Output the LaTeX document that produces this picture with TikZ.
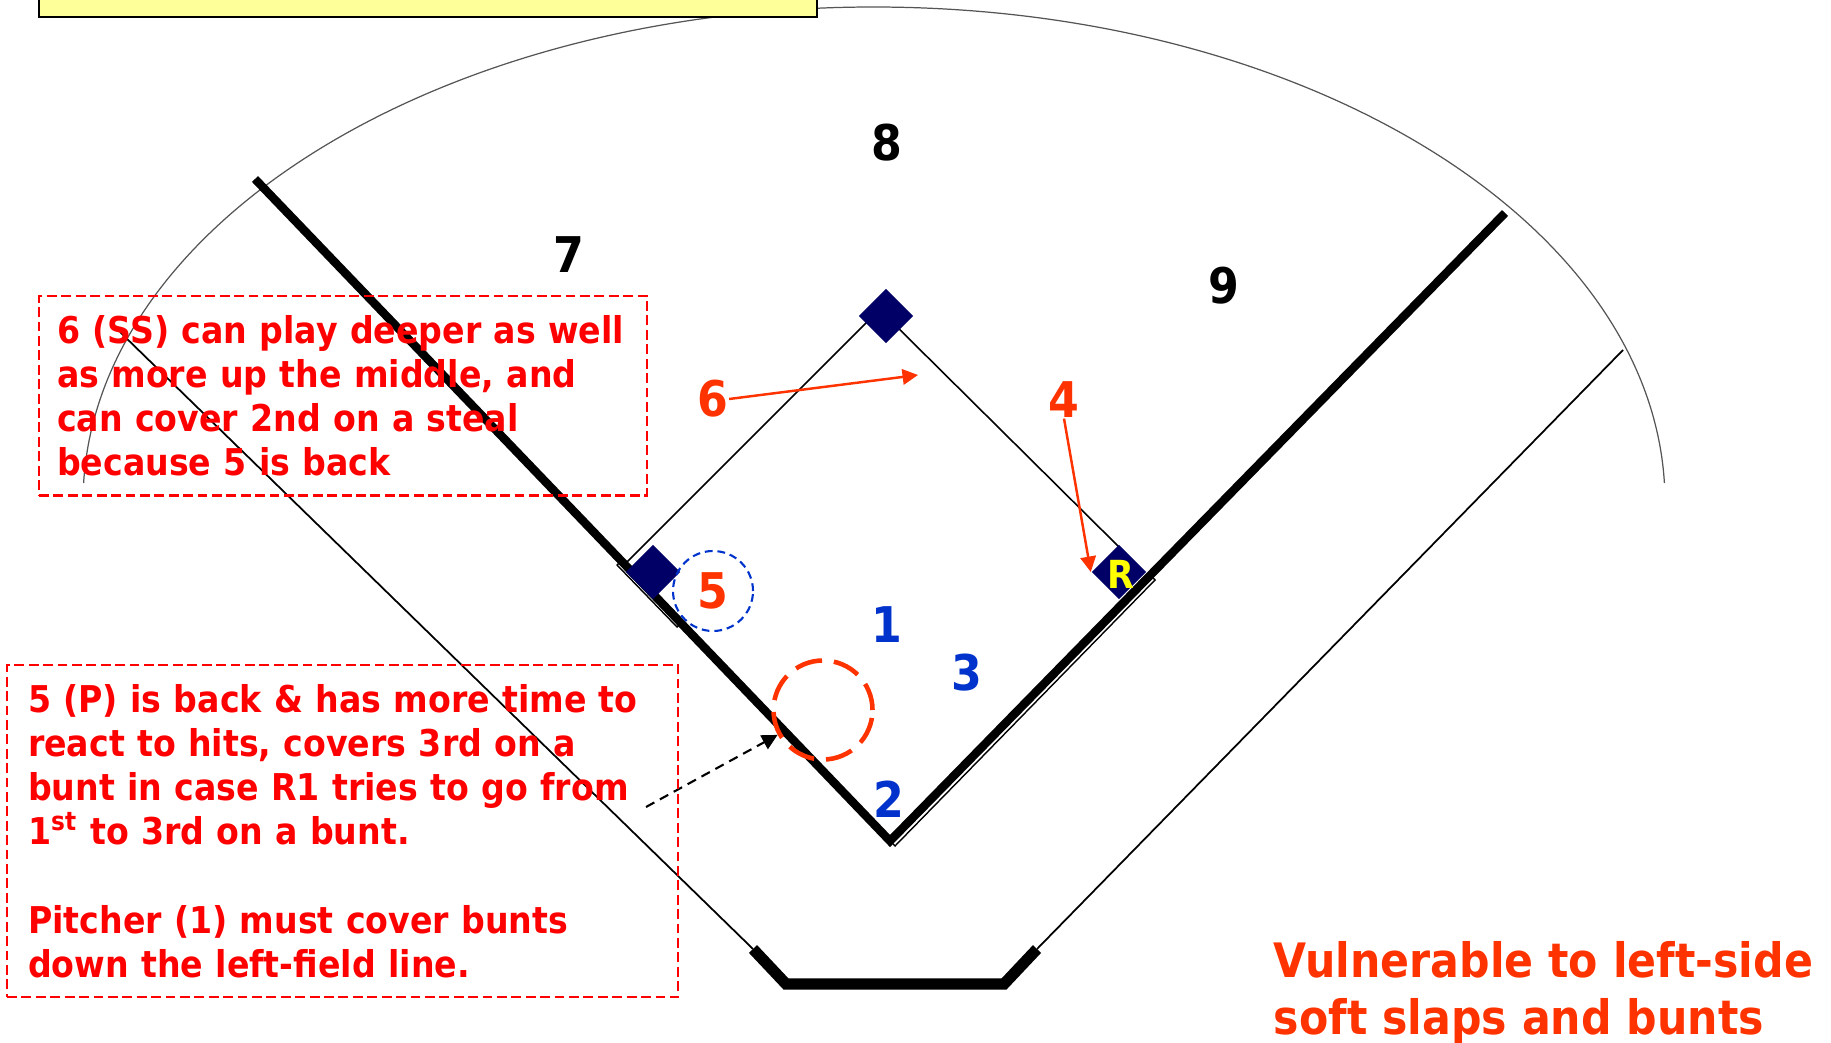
\documentclass[tikz,border=0pt]{standalone}
\usepackage{fontspec}
\setmainfont{DejaVu Sans}[FakeStretch=0.9]
\usetikzlibrary{arrows.meta, shapes.geometric}
\definecolor{notered}{HTML}{FF0000}
\definecolor{moveorg}{HTML}{FF3300}
\definecolor{posblue}{HTML}{0033CC}
\definecolor{basenavy}{HTML}{000066}
\definecolor{titlefill}{HTML}{FFFF99}
\definecolor{runneryel}{HTML}{FFFF00}
\definecolor{fencegray}{HTML}{555555}

\begin{document}
\begin{tikzpicture}[
  fence/.style={draw=fencegray, line width=0.35pt},
  sideline/.style={line width=0.5pt},
  foul/.style={line width=2.4pt},
  plate/.style={line width=3.2pt},
  basepath/.style={line width=0.45pt},
  bag/.style={draw, fill=white, line width=0.4pt},
  basemark/.style={diamond, fill=basenavy, minimum width=0.55cm,
                   minimum height=0.55cm, inner sep=0pt},
  runner/.style={text=runneryel, inner sep=0pt,
                 font=\fontsize{11}{11}\selectfont\bfseries},
  fielder/.style={inner sep=0pt, font=\fontsize{14}{14}\selectfont\bfseries},
  note/.style={draw=notered, line width=0.6pt, dash pattern=on 2.8pt off 1.3pt,
               text=notered, align=left, anchor=north west, inner ysep=0.19cm,
               font=\fontsize{10.5}{12.6}\selectfont\bfseries},
  mvarrow/.style={draw=moveorg, line width=0.7pt, -{Triangle[length=4.4pt, width=4.4pt]}},
  hintarrow/.style={line width=0.6pt, dash pattern=on 2.7pt off 1.8pt,
                    -{Triangle[length=4.4pt, width=4.4pt]}},
  buntzone/.style={circle, draw=moveorg, line width=1.3pt, dash pattern=on 7.8pt off 3.4pt,
                   minimum size=0.99cm, inner sep=0pt},
]
\useasboundingbox (0,0) rectangle (18.31,10.42);
\clip (0,0) rectangle (18.31,10.42);
% ================= fence + title strip =====================================
\coordinate (fc) at (8.74,5.40);
\draw[fence] (fc) ++(177.8:7.91 and 4.95) arc[start angle=177.8, end angle=2.2, x radius=7.91, y radius=4.95];
\draw[fill=titlefill, line width=0.6pt] (0.39,10.25) rectangle (8.17,10.8);
% ================= field lines =============================================
\draw[sideline] (1.20,7.10) -- (7.53,0.93);
\draw[sideline] (10.37,0.93) -- (16.23,6.92);
\draw[plate] (7.53,0.93) -- (7.86,0.58) -- (10.04,0.58) -- (10.37,0.93);
\draw[bag] (8.90,2.01) -- (11.50,4.67) -- (11.55,4.62) -- (8.95,1.96) -- cycle;
\draw[bag] (6.21,4.81) -- (6.81,4.19) -- (6.77,4.15) -- (6.17,4.77) -- cycle;
\draw[foul] (2.55,8.63) -- (8.90,2.01) -- (15.05,8.29);
\draw[basepath] (6.22,4.75) -- (8.76,7.29);
\draw[basepath] (8.86,7.26) -- (11.19,4.95);
% ================= bases ===================================================
\node[basemark] (second) at (8.86,7.26) {};
\node[basemark] (third) at (6.53,4.70) {};
\node[basemark] (first) at (11.19,4.70) {};
\node[runner] (runner) at (11.21,4.68) {R};
% ================= fielders ================================================
\node[fielder] (lf) at (5.69,7.87) {7};
\node[fielder] (cf) at (8.87,8.99) {8};
\node[fielder] (rf) at (12.24,7.56) {9};
\node[fielder, text=posblue] (pitcher) at (8.87,4.17) {1};
\node[fielder, text=posblue] (catcher) at (8.89,2.43) {2};
\node[fielder, text=posblue] (fb) at (9.67,3.69) {3};
\node[fielder, text=moveorg, circle, draw=posblue, line width=0.6pt,
      dash pattern=on 2.2pt off 1.4pt, minimum size=0.8cm] (tb) at (7.13,4.51) {5};
\node[fielder, text=moveorg] (ss) at (7.13,6.43) {6};
\node[fielder, text=moveorg] (sb) at (10.64,6.42) {4};
\node[buntzone] (bunt) at (8.23,3.32) {};
% moves
\coordinate (ssdeep) at (9.18,6.67);
\draw[mvarrow] (ss.east) -- (ssdeep);
\draw[mvarrow] (sb.south) -- (first.west);
\coordinate (hintstart) at (6.46,2.35);
\draw[hintarrow] (hintstart) -- (bunt);
% ================= notes ===================================================
\node[note, text width=5.72cm, inner xsep=0.18cm] (ssnote) at (0.38,7.47)
  {6 (SS) can play deeper as well\\as more up the middle, and\\can cover 2nd on a steal\\because 5 is back};
\node[note, text width=6.29cm, inner xsep=0.21cm] (pnote) at (0.06,3.78)
  {5 (P) is back \& has more time to\\react to hits, covers 3rd on a\\bunt in case R1 tries to go from\\1\textsuperscript{st} to 3rd on a bunt.\\[12.6pt]Pitcher (1) must cover bunts\\down the left-field line.};
\node[anchor=south west, inner sep=0pt, align=left, text=moveorg,
      font=\fontsize{13.5}{16.3}\selectfont\bfseries] (warn) at (12.73,-0.03)
  {Vulnerable to left-side\\soft slaps and bunts};
\end{tikzpicture}
\end{document}
